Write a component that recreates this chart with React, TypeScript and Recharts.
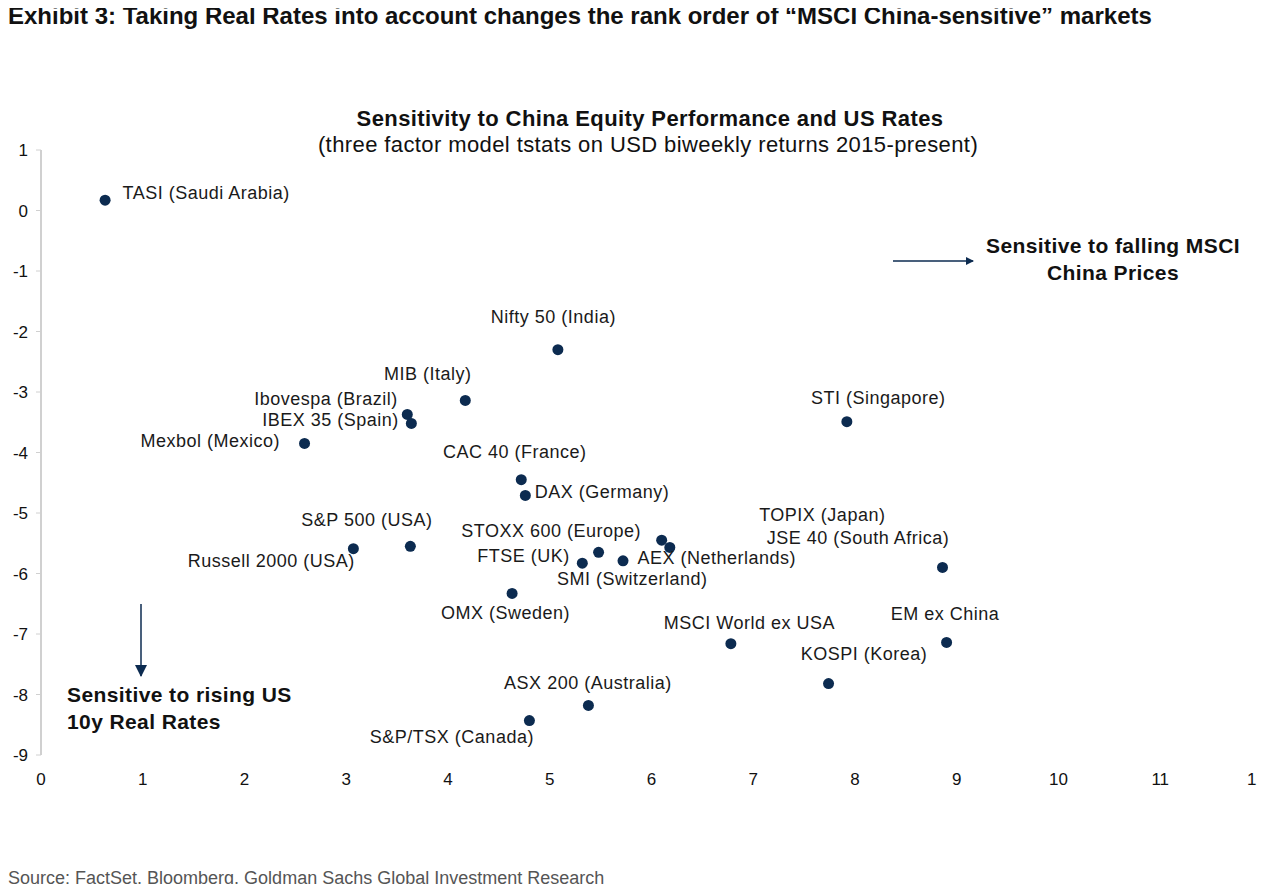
import React from 'react';
import { ScatterChart, Scatter, XAxis, YAxis, LabelList } from 'recharts';

// Market names and tstats
const markets = [
  'TASI (Saudi Arabia)', 'Nifty 50 (India)', 'MIB (Italy)', 'Ibovespa (Brazil)', 'IBEX 35 (Spain)',
  'Mexbol (Mexico)', 'STI (Singapore)', 'CAC 40 (France)', 'DAX (Germany)', 'S&P 500 (USA)',
  'Russell 2000 (USA)', 'STOXX 600 (Europe)', 'TOPIX (Japan)', 'FTSE (UK)', 'SMI (Switzerland)',
  'AEX (Netherlands)', 'JSE 40 (South Africa)', 'OMX (Sweden)', 'MSCI World ex USA', 'EM ex China',
  'KOSPI (Korea)', 'ASX 200 (Australia)', 'S&P/TSX (Canada)',
];
const chinaTstat = [0.63, 5.08, 4.17, 3.6, 3.64, 2.59, 7.92, 4.72, 4.76, 3.63, 3.07, 6.1, 6.18, 5.32, 5.48, 5.72, 8.86, 4.63, 6.78, 8.9, 7.74, 5.38, 4.8];
const ratesTstat = [0.17, -2.3, -3.14, -3.37, -3.52, -3.85, -3.49, -4.45, -4.71, -5.55, -5.59, -5.45, -5.57, -5.83, -5.65, -5.79, -5.9, -6.33, -7.16, -7.14, -7.82, -8.18, -8.43];
const xTicks = [0, 1, 2, 3, 4, 5, 6, 7, 8, 9, 10, 11, 12];
const yTicks = [1, 0, -1, -2, -3, -4, -5, -6, -7, -8, -9];

// label placement relative to each dot: [dx, dy, anchor]
const labelPlace: [number, number, string][] = [
  [22, -3, 'start'], [0, -28, 'middle'], [-33, -22, 'middle'], [-5, -11, 'end'], [-8, 1, 'end'],
  [-20, 2, 'end'], [36, -19, 'middle'], [-2, -23, 'middle'], [14, 1, 'start'], [-39, -22, 'middle'],
  [6, 17, 'end'], [-106, -5, 'middle'], [157, -28, 'middle'], [-8, -3, 'end'], [-37, 31, 'start'],
  [19, 2, 'start'], [-80, -25, 'middle'], [-2, 24, 'middle'], [23, -16, 'middle'], [3, -24, 'middle'],
  [40, -25, 'middle'], [4, -18, 'middle'], [-73, 21, 'middle'],
];

const data = markets.map((name, i) => ({ name, x: chinaTstat[i], y: ratesTstat[i], i }));

const font = '"Liberation Sans", Arial, sans-serif';
const navy = '#0c2b50';

const PointLabel = (props: any) => {
  const { x, y, index } = props;
  const [dx, dy, anchor] = labelPlace[index];
  return (
    <text x={x + dx} y={y + dy} dy={6} textAnchor={anchor as any} fontSize={18} letterSpacing={0.5} fill="#1a1a1a" fontFamily={font}>
      {markets[index]}
    </text>
  );
};

const Dot = (props: any) => <circle cx={props.cx} cy={props.cy} r={5.5} fill={navy} />;

export default function App() {
  return (
    <div style={{ position: 'relative', width: 1265, height: 892, margin: -8, background: '#fff', overflow: 'hidden' }}>
      <div style={{ position: 'absolute', left: 8, top: 2, fontFamily: font, fontWeight: 'bold', fontSize: 24, color: '#111', whiteSpace: 'nowrap' }}>
        Exhibit 3: Taking Real Rates into account changes the rank order of “MSCI China-sensitive” markets
      </div>
      <ScatterChart width={1265} height={892} margin={{ top: 150, right: 3, bottom: 107, left: 0 }}>
        <XAxis type="number" dataKey="x" domain={[0, 12]} ticks={xTicks} axisLine={false} tickLine={false}
          height={30} tickMargin={12} tick={{ fontSize: 17, fill: '#111', fontFamily: font }} />
        <YAxis type="number" dataKey="y" domain={[-9, 1]} ticks={yTicks} width={41} interval={0}
          axisLine={{ stroke: '#d0d0d0', strokeWidth: 2 }} tickLine={{ stroke: '#d0d0d0' }} tickSize={5} tickMargin={8}
          tick={{ fontSize: 17, fill: '#111', fontFamily: font }} />
        <Scatter data={data} shape={<Dot />} isAnimationActive={false}>
          <LabelList dataKey="name" content={<PointLabel />} />
        </Scatter>
      </ScatterChart>
      <svg width={1265} height={892} style={{ position: 'absolute', left: 0, top: 0, pointerEvents: 'none' }}>
        <defs>
          <marker id="ah" markerWidth="8" markerHeight="8" refX="7" refY="4" orient="auto" markerUnits="userSpaceOnUse">
            <path d="M0,0 L8,4 L0,8 z" fill={navy} />
          </marker>
          <marker id="ah2" markerWidth="12" markerHeight="12" refX="11" refY="6" orient="auto" markerUnits="userSpaceOnUse">
            <path d="M0,0 L12,6 L0,12 z" fill={navy} />
          </marker>
        </defs>
        <g fontFamily={font} fill="#111" textAnchor="middle">
          <text x={650} y={126} fontSize={22} letterSpacing={0.4} fontWeight="bold">Sensitivity to China Equity Performance and US Rates</text>
          <text x={648} y={152} fontSize={22} letterSpacing={0.4}>(three factor model tstats on USD biweekly returns 2015-present)</text>
          <text x={1113} y={253} fontSize={21} letterSpacing={0.4} fontWeight="bold">Sensitive to falling MSCI</text>
          <text x={1113} y={280} fontSize={21} letterSpacing={0.4} fontWeight="bold">China Prices</text>
        </g>
        <g fontFamily={font} fill="#111" fontSize={21} letterSpacing={0.4} fontWeight="bold">
          <text x={67} y={702}>Sensitive to rising US</text>
          <text x={67} y={729}>10y Real Rates</text>
        </g>
        <line x1={893} y1={261} x2={973} y2={261} stroke={navy} strokeWidth={1.5} markerEnd="url(#ah)" />
        <line x1={141} y1={604} x2={141} y2={676} stroke={navy} strokeWidth={1.5} markerEnd="url(#ah2)" />
        <text x={8} y={884} fontFamily={font} fontSize={18} fill="#555">
          Source: FactSet, Bloomberg, Goldman Sachs Global Investment Research
        </text>
      </svg>
    </div>
  );
}
